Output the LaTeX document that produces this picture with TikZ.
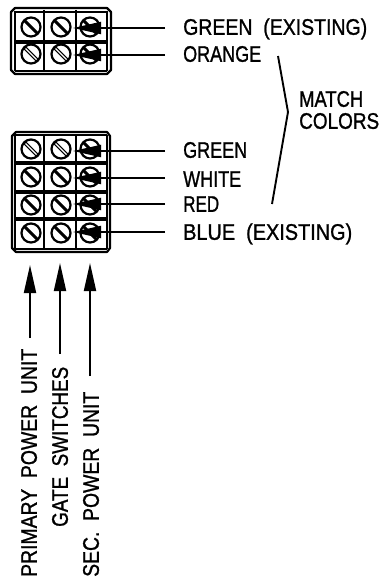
\documentclass[tikz,border=0pt]{standalone}
\usepackage{fontspec}
\setmainfont{Liberation Sans}[FakeBold=1.2]
\usetikzlibrary{arrows.meta,calc}
\newcommand{\lab}[2]{\resizebox{#1pt}{15.5pt}{\raisebox{0pt}[\fontcharht\font`H][0pt]{#2}}}
\tikzset{
  wire/.style={line width=1.9pt},
  block/.style={line width=2.2pt,line join=round},
  divider/.style={line width=1.8pt},
  screwhead/.style={line width=2.2pt},
  lead/.style={line width=1.9pt,-{Triangle[length=28pt,width=12pt]}},
  label/.style={inner sep=0pt,anchor=south west},
  vlabel/.style={inner sep=0pt,anchor=south west,rotate=90},
}
\newcommand{\screw}[2]{%
  \draw[screwhead] (#1,#2) circle[radius=9.5];
  \draw[line width=3pt] ($(#1,#2)+(-6.5,-6.5)$) -- ($(#1,#2)+(6.5,6.5)$);}
\newcommand{\openscrew}[2]{%
  \draw[screwhead] (#1,#2) circle[radius=9.5];
  \draw[line width=3.6pt] ($(#1,#2)+(-6.5,-6.5)$) -- ($(#1,#2)+(6.5,6.5)$);
  \draw[line width=1.2pt,white] ($(#1,#2)+(-5.5,-5.5)$) -- ($(#1,#2)+(5.5,5.5)$);}
\begin{document}
\begin{tikzpicture}[x=1pt,y=-1pt]
\useasboundingbox (0,0) rectangle (385,578);
% top block
\draw[block] (15,8) -- (107,8) -- (111,12) -- (111,70) -- (107,74) -- (15,74) -- (11,70) -- (11,12) -- cycle;
\draw[divider] (14,12) -- (108,12) (15,71) -- (107,71) (15,11) -- (15,71) (107,11) -- (107,71);
\draw[divider] (44,10) -- (44,72) (76,10) -- (76,72);
\draw[divider] (15,41) -- (107,41) (15,43) -- (107,43);
% lower block
\draw[block] (16,132) -- (107,132) -- (110,136) -- (110,248) -- (107,252) -- (16,252) -- (12,248) -- (12,136) -- cycle;
\draw[divider] (15,135) -- (107,135) (15,249) -- (107,249) (15,135) -- (15,249) (107,135) -- (107,249);
\draw[divider] (44,134) -- (44,250) (76,134) -- (76,250);
\draw[divider] (15,162) -- (107,162) (15,164) -- (107,164) (15,191) -- (107,191) (15,193) -- (107,193) (15,218) -- (107,218) (15,220) -- (107,220);
% screws
\foreach \y in {27,177,205,233}{
  \screw{31}{\y}\screw{61}{\y}\screw{90}{\y}}
\foreach \y in {54,149}{
  \openscrew{31}{\y}\openscrew{61}{\y}\screw{90}{\y}}
% labels
\node[label] (l1) at (183,35) {\lab{184}{GREEN\ \ (EXISTING)}};
\node[label] (l2) at (183,62) {\lab{78}{ORANGE}};
\node[label] (l3) at (183,158) {\lab{64}{GREEN}};
\node[label] (l4) at (183,187) {\lab{58}{WHITE}};
\node[label] (l5) at (183,212) {\lab{36}{RED}};
\node[label] (l6) at (183,240) {\lab{169}{BLUE\ \ (EXISTING)}};
\node[label] (m1) at (299,107) {\lab{64}{MATCH}};
\node[label] (m2) at (299,129) {\lab{80}{COLORS}};
\node[vlabel] (v1) at (37,577) {\lab{228}{PRIMARY\ \ POWER\ \ UNIT}};
\node[vlabel] (v2) at (68,527) {\lab{160}{GATE\ \ SWITCHES}};
\node[vlabel] (v3) at (99,577) {\lab{185}{SEC.\ \ POWER\ \ UNIT}};
% wires to terminals
\foreach \n/\y in {a/28,b/55,c/151,d/178,e/204,f/232}{
  \coordinate (t\n) at (165,\y);
  \coordinate (h\n) at (73,\y);
  \draw[lead] (t\n) -- (h\n);}
% leads from below
\coordinate (u1) at (30,338); \coordinate (w1) at (30,265);
\coordinate (u2) at (60,354); \coordinate (w2) at (60,263);
\coordinate (u3) at (90,376); \coordinate (w3) at (90,263);
\draw[lead] (u1) -- (w1);
\draw[lead] (u2) -- (w2);
\draw[lead] (u3) -- (w3);
% bracket
\coordinate (b1) at (278,56); \coordinate (b2) at (288,112); \coordinate (b3) at (272,204);
\draw[wire] (b1) -- (b2) -- (b3);
\end{tikzpicture}
\end{document}
